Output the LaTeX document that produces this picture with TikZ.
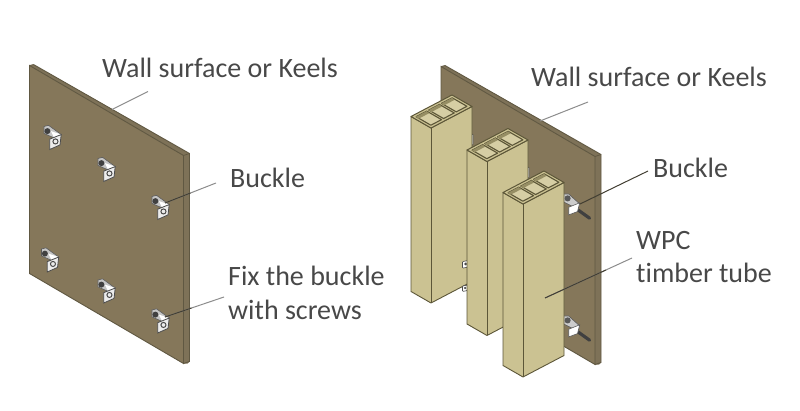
\documentclass[tikz,border=0pt]{standalone}
\usepackage{fontspec}
\setmainfont[Ligatures=NoCommon]{Carlito}
\usetikzlibrary{calc}
\definecolor{BoardBrown}{RGB}{133,119,90}
\definecolor{BoardEdge}{RGB}{96,88,66}
\definecolor{BoardSide}{RGB}{126,114,88}
\definecolor{TubeFace}{RGB}{203,194,146}
\definecolor{TubeEdge}{RGB}{92,86,56}
\definecolor{TubeCell}{RGB}{214,206,164}
\definecolor{TubeWall}{RGB}{150,142,100}
\definecolor{TextGray}{RGB}{72,72,72}
\definecolor{LeaderGray}{RGB}{140,140,140}
\definecolor{LeaderDark}{RGB}{66,62,50}
\tikzset{
    tag/.style={font=\fontsize{28}{32}\selectfont, text=TextGray, anchor=west, inner sep=0pt, align=left},
    leader/.style={LeaderGray, line width=1pt},
    leaderdark/.style={LeaderDark, line width=1pt},
    wallboard/.pic={
        \fill[BoardSide] (0,0) -- (4,-1) -- (160,88) -- (160,296) -- (158,298) -- (154,298) -- (154,90) -- cycle;
        \fill[BoardBrown] (0,0) -- (154,90) -- (154,298) -- (0,208) -- cycle;
        \draw[BoardEdge, line width=.9pt] (0,0) -- (154,90) -- (154,298) -- (0,208) -- cycle;
        \draw[BoardEdge, line width=.9pt] (4,-1) -- (160,88) -- (160,296) -- (154,298);
        \draw[BoardEdge, line width=.7pt] (0,0) -- (4,-1) (154,90) -- (160,88);
    },
    bracket/.pic={
        \filldraw[draw=gray!70!black, fill=gray!45, line width=.6pt] (-7,-10) -- (-3,-11) -- (8,-3) -- (2,0) -- (-7,-4) -- cycle;
        \fill[white] (-1,-6) -- (8,-3) -- (2,0) -- cycle;
        \filldraw[draw=gray!60!black, fill=white!85!gray, line width=.8pt] (-2,1) -- (8,-3) -- (7,6) -- (-2,10) -- cycle;
        \fill[black!75] (-4,-6) circle (2.6);
        \draw[black!70, line width=1pt] (3,3) circle (2.2);
    },
    bracketbolt/.pic={
        \draw[black!75, line cap=round, line width=3.2pt] (2,2) -- (16,12);
        \filldraw[draw=gray!70!black, fill=gray!40, line width=.6pt] (-8,-10) -- (-3,-10) -- (7,-1) -- (2,2) -- (-8,-3) -- cycle;
        \fill[black!65] (-4,-6) circle (2.8);
        \filldraw[draw=gray!70!black, fill=white, line width=.6pt] (-3,2) -- (7,-2) -- (5,6) -- (-3,9) -- cycle;
    },
    clipplate/.pic={
        \filldraw[draw=gray!60!black, fill=white, line width=.6pt, rounded corners=.8pt] (-5,-4) -- (5,-6) -- (5,5) -- (-5,7) -- cycle;
        \fill[black!70] (0,0) circle (2.5);
    },
    wpctube/.pic={
        % Faces
        \filldraw[TubeEdge, fill=TubeFace, line width=.9pt, line join=round]
            (0,0) -- (20,11.5) -- (61,-10) -- (61,{#1-10}) -- (20,{#1+11.5}) -- (0,#1) -- cycle;
        \draw[TubeEdge, line width=.9pt] (20,11.5) -- (20,{#1+11.5});
        % Top with its three cells
        \filldraw[TubeEdge, fill=TubeFace, line width=1pt, line join=round]
            (0,0) -- (20,11.5) -- (61,-10) -- (41,-21.5) -- cycle;
        \foreach \ua/\ub in {.06/.32, .37/.63, .68/.94} {
            \filldraw[TubeEdge, fill=TubeCell, line width=1.1pt, line join=round]
                ({41*\ua+2.6},{-21.5*\ua+1.5}) -- ({41*\ua+17.4},{-21.5*\ua+10})
                -- ({41*\ub+17.4},{-21.5*\ub+10}) -- ({41*\ub+2.6},{-21.5*\ub+1.5}) -- cycle;
            \fill[TubeWall]
                ({41*\ua+2.6},{-21.5*\ua+1.5}) -- ({41*\ub+2.6},{-21.5*\ub+1.5})
                -- ({41*\ub+5},{-21.5*\ub+3.6}) -- ({41*\ua+5},{-21.5*\ua+3.6}) -- cycle;
        }
    },
}
\begin{document}
\begin{tikzpicture}[x=1pt, y=-1pt]
    \useasboundingbox (0,0) rectangle (800,411);

    % Left board
    \pic at (29.5,65.5) {wallboard};
    \foreach \bx/\by in {52/138, 106/170, 160/208, 49.5/260.5, 106/291.5, 160/321.5}
        \pic[scale=1.15] at (\bx,\by) {bracket};

    % Right board
    \pic at (441,66.5) {wallboard};
    \pic at (468,140) {clipplate};
    \pic at (524,173) {clipplate};
    \pic[scale=1.1] at (572,205) {bracketbolt};
    \pic[scale=1.1] at (572,327) {bracketbolt};

    % Tubes, back to front
    \pic at (411,116.5) {wpctube=175};
    \pic[scale=.6] at (465.5,264) {clipplate};
    \pic[scale=.5] at (465,288) {clipplate};
    \pic at (467,150) {wpctube=174};
    \pic at (503,192.5) {wpctube=173};

    % Texts
    \node[tag] (wallL) at (102,68) {Wall surface or Keels};
    \node[tag] (buckleL) at (230,178) {Buckle};
    \node[tag] (fixL) at (228,276) {Fix the buckle};
    \node[tag] (screwL) at (228,310) {with screws};
    \node[tag] (wallR) at (531,77) {Wall surface or Keels};
    \node[tag] (buckleR) at (653,168) {Buckle};
    \node[tag] (wpcR) at (636,241) {WPC};
    \node[tag] (timberR) at (636,273) {timber tube};

    % Leader ends
    \coordinate (wallLa) at (148,91.5);
    \coordinate (wallLb) at (112,109.5);
    \coordinate (buckleLa) at (216,183);
    \coordinate (buckleLb) at (165,203);
    \coordinate (fixLa) at (224,297);
    \coordinate (fixLb) at (165,317);
    \coordinate (wallRa) at (588,102);
    \coordinate (wallRb) at (540,121);
    \coordinate (buckleRa) at (648,171);
    \coordinate (buckleRb) at (580,204);
    \coordinate (wpcRa) at (632,258);
    \coordinate (wpcRb) at (545,298);

    % Leaders
    \draw[leader] (wallLa) -- (wallLb);
    \draw[leader] (wallRa) -- (wallRb);
    \draw[leader] (buckleLa) -- (buckleLb);
    \draw[leaderdark] ($(buckleLa)!.5!(buckleLb)$) -- (buckleLb);
    \draw[leader] (fixLa) -- (fixLb);
    \draw[leaderdark] ($(fixLa)!.55!(fixLb)$) -- (fixLb);
    \draw[leaderdark] (buckleRa) -- (buckleRb);
    \draw[leader] (wpcRa) -- (wpcRb);
    \draw[leaderdark] ($(wpcRa)!.3!(wpcRb)$) -- (wpcRb);
\end{tikzpicture}
\end{document}
